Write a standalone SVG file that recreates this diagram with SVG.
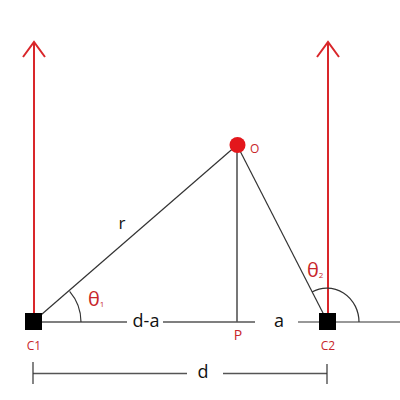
<svg xmlns="http://www.w3.org/2000/svg" width="400" height="400" viewBox="0 0 400 400">
<style>
.red{stroke:#d9262a;stroke-width:2;fill:none}
.ln{stroke:#333;stroke-width:1.2;fill:none}
.gr{stroke:#555;stroke-width:1.6;fill:none}
.lbl{font-family:"Open Sans","Liberation Sans",sans-serif;fill:#111}
.rl{font-family:"Open Sans","Liberation Sans",sans-serif;fill:#c8262a}
</style>
<rect width="400" height="400" fill="#fff"/>
<g id="connectors">
<line class="red" x1="34" y1="321" x2="34" y2="43"/>
<polyline class="red" points="23,57 34,42 45,57"/>
<line class="red" x1="328" y1="321" x2="328" y2="43"/>
<polyline class="red" points="317,57 328,42 339,57"/>
<line class="ln" x1="34" y1="321" x2="237" y2="145"/>
<line class="ln" x1="237" y1="145" x2="324" y2="315"/>
<line class="gr" x1="237" y1="145" x2="237" y2="322"/>
<line class="gr" x1="34" y1="322" x2="127" y2="322"/>
<line class="gr" x1="163" y1="322" x2="255" y2="322"/>
<line class="ln" x1="298" y1="322" x2="400" y2="322"/>
<path class="ln" d="M81,322 A47,47 0 0 0 69.6,291.4"/>
<path class="ln" d="M359,322 A32,34 0 0 0 312,292"/>
<line class="gr" x1="33" y1="373.5" x2="187" y2="373.5"/>
<line class="gr" x1="223" y1="373.5" x2="327" y2="373.5"/>
<line class="ln" x1="33" y1="362" x2="33" y2="384"/>
<line class="ln" x1="327" y1="364" x2="327" y2="384"/>
</g>
<g id="C1"><rect x="25" y="313" width="17" height="17" fill="#000"/><text class="rl" x="34" y="350" font-size="12" text-anchor="middle">C1</text></g>
<g id="C2"><rect x="319" y="313" width="17" height="17" fill="#000"/><text class="rl" x="328" y="350" font-size="12" text-anchor="middle">C2</text></g>
<g id="O"><circle cx="237.5" cy="145" r="8" fill="#e3171c"/><text class="rl" x="250" y="153" font-size="12">O</text></g>
<g id="P"><text class="rl" x="238" y="340" font-size="14" text-anchor="middle">P</text></g>
<g id="labels">
<text class="lbl" x="122" y="229" font-size="17" text-anchor="middle">r</text>
<text class="lbl" x="146" y="327" font-size="18" text-anchor="middle">d-a</text>
<text class="lbl" x="279" y="327" font-size="18" text-anchor="middle">a</text>
<text class="lbl" x="203" y="378" font-size="18" text-anchor="middle">d</text>
<text class="rl" x="88" y="306" font-size="20">θ<tspan font-size="8" dy="1">1</tspan></text>
<text class="rl" x="307" y="277" font-size="20">θ<tspan font-size="8" dy="1">2</tspan></text>
</g>
</svg>
